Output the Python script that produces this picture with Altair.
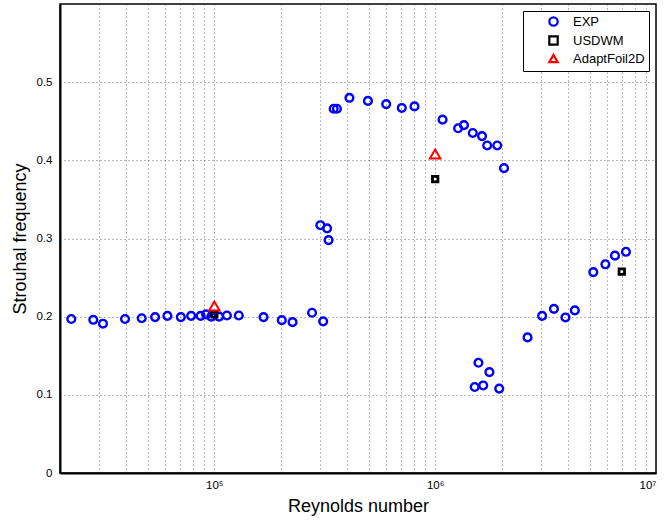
import altair as alt
import pandas as pd

# Experimental data (EXP)
exp_re = [2.25e4, 2.83e4, 3.13e4, 3.94e4, 4.69e4, 5.39e4, 6.13e4, 7.05e4, 7.85e4, 8.67e4,
          9.17e4, 9.69e4, 1.05e5, 1.14e5, 1.29e5, 1.67e5, 2.02e5, 2.26e5, 2.77e5, 3.11e5,
          3.02e5, 3.24e5, 3.29e5, 3.47e5, 3.59e5, 4.09e5, 4.96e5, 6.0e5, 7.06e5, 8.06e5,
          1.08e6, 1.27e6, 1.35e6, 1.48e6, 1.63e6, 1.72e6, 1.91e6, 2.05e6,
          1.57e6, 1.76e6, 1.51e6, 1.65e6, 1.95e6,
          2.62e6, 3.05e6, 3.45e6, 3.89e6, 4.29e6, 5.2e6, 5.9e6, 6.52e6, 7.31e6]
exp_st = [0.197, 0.196, 0.191, 0.197, 0.198, 0.1995, 0.201, 0.1995, 0.201, 0.201,
          0.203, 0.200, 0.200, 0.2015, 0.2015, 0.1995, 0.1955, 0.193, 0.205, 0.194,
          0.317, 0.313, 0.298, 0.466, 0.466, 0.480, 0.476, 0.472, 0.467, 0.469,
          0.452, 0.441, 0.445, 0.435, 0.431, 0.419, 0.419, 0.390,
          0.141, 0.129, 0.110, 0.112, 0.108,
          0.1735, 0.201, 0.210, 0.199, 0.208, 0.257, 0.267, 0.278, 0.283]

# USDWM
usdwm_re = [1e5, 1e6, 7.0e6]
usdwm_st = [0.203, 0.376, 0.2577]

# AdaptFoil2D
adapt_re = [1e5, 1e6]
adapt_st = [0.2136, 0.408]

series_names = ["EXP", "USDWM", "AdaptFoil2D"]

# Axis ticks
x_ticks = [2e4, 3e4, 4e4, 5e4, 6e4, 7e4, 8e4, 9e4,
           1e5, 2e5, 3e5, 4e5, 5e5, 6e5, 7e5, 8e5, 9e5,
           1e6, 2e6, 3e6, 4e6, 5e6, 6e6, 7e6, 8e6, 9e6, 1e7]
y_ticks = [0, 0.1, 0.2, 0.3, 0.4, 0.5]

rows = []
for r, s in zip(exp_re, exp_st):
    rows.append({"Re": r, "St": s, "series": "EXP"})
for r, s in zip(usdwm_re, usdwm_st):
    rows.append({"Re": r, "St": s, "series": "USDWM"})
for r, s in zip(adapt_re, adapt_st):
    rows.append({"Re": r, "St": s, "series": "AdaptFoil2D"})
df = pd.DataFrame(rows)

font = "Liberation Sans"

x_enc = alt.X("Re:Q",
              scale=alt.Scale(type="log", domain=[2e4, 1e7], nice=False),
              axis=alt.Axis(values=x_ticks, title="Reynolds number",
                            labelExpr="datum.value == 100000 ? '10⁵' : datum.value == 1000000 ? '10⁶' : datum.value == 10000000 ? '10⁷' : ''",
                            grid=True, ticks=False, labelPadding=6, titleY=24, titleBaseline="top"))
y_enc = alt.Y("St:Q",
              scale=alt.Scale(domain=[0, 0.6], nice=False),
              axis=alt.Axis(values=y_ticks, title="Strouhal frequency",
                            labelExpr="datum.value == 0 ? '0' : format(datum.value, '.1f')",
                            grid=True, ticks=False, labelPadding=8, titleX=-31))
c_enc = alt.Color("series:N",
                  scale=alt.Scale(domain=series_names, range=["#0000ff", "#000000", "#ff0000"]),
                  legend=alt.Legend(title=None))
s_enc = alt.Shape("series:N",
                  scale=alt.Scale(domain=series_names, range=["circle", "square", "triangle-up"]),
                  legend=alt.Legend(title=None))

base = alt.Chart(df).encode(x=x_enc, y=y_enc, color=c_enc, shape=s_enc)

marker_style = {
    "EXP": dict(size=60, strokeWidth=2.4),
    "USDWM": dict(size=30, strokeWidth=2.8),
    "AdaptFoil2D": dict(size=110, strokeWidth=2.0),
}

layers = []
for name in series_names:
    st = marker_style[name]
    layers.append(
        base.transform_filter(alt.datum.series == name).mark_point(
            filled=False, opacity=1, fill="#ffffff", fillOpacity=0,
            size=st["size"], strokeWidth=st["strokeWidth"])
    )

chart = alt.layer(*layers).properties(
    width=596,
    height=469,
    autosize=alt.AutoSizeParams(type="none"),
    padding={"left": 60, "top": 4, "right": 10, "bottom": 53},
).configure_view(
    stroke="#000000", strokeWidth=1.5
).configure_axis(
    labelFont=font, titleFont=font, labelFontSize=11.5, titleFontSize=18,
    labelColor="#000000", titleColor="#000000", titleFontWeight="normal",
    gridColor="#333333", gridDash=[1, 3], gridOpacity=0.7, gridWidth=1,
    domainColor="#000000", domainWidth=2,
).configure_legend(
    orient="top-right", offset=7, fillColor="#ffffff", strokeColor="#000000",
    strokeWidth=1, padding=4, labelFont=font, labelFontSize=13, labelColor="#000000",
    symbolOffset=20, labelOffset=13, rowPadding=0, symbolSize=70,
    symbolStrokeWidth=2.2, symbolFillColor="#ffffff"
)

chart.save("out.html", embed_options={"renderer": "svg", "actions": False})
